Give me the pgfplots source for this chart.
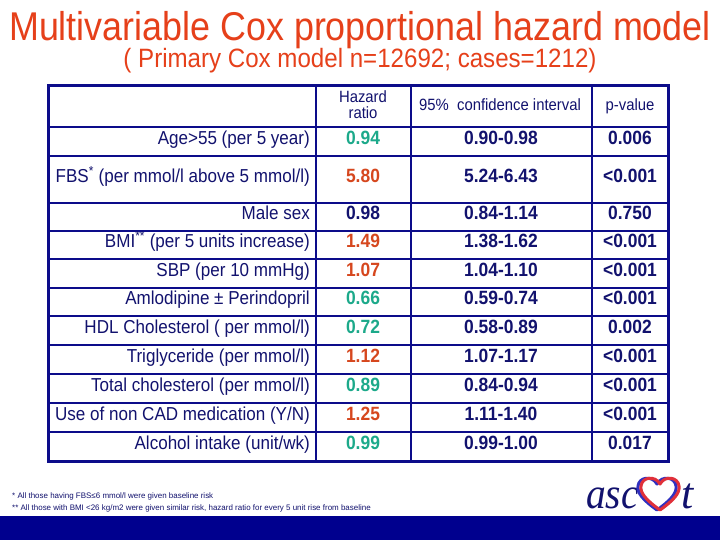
\documentclass[border=0pt]{standalone}
\usepackage{graphicx}
\usepackage{pgfplots}
\pgfplotsset{compat=1.18}
\usepackage{pgfplotstable}
\usepackage{fontspec}
\setmainfont{Liberation Sans}
\newfontfamily\logofont{Liberation Serif}
\definecolor{txtnavy}{HTML}{12126E}
\definecolor{gridnavy}{HTML}{0C0C8A}
\definecolor{hrgreen}{HTML}{1CA98A}
\definecolor{hrred}{HTML}{D6471E}
\definecolor{titlered}{HTML}{E6401A}
\definecolor{barnavy}{HTML}{00008E}
\definecolor{heartred}{HTML}{E0303A}
\definecolor{heartblue}{HTML}{3030C0}
\newcommand{\vs}[1]{\scalebox{1}[1.1]{#1}}

\pgfplotstableread[col sep=comma]{
y,label
142,Age>55 (per 5 year)
180,FBS\textsuperscript{*} (per mmol/l above 5 mmol/l)
217,Male sex
245,BMI\textsuperscript{**} (per 5 units increase)
274,SBP (per 10 mmHg)
302,Amlodipine ± Perindopril
331,HDL Cholesterol ( per mmol/l)
360,Triglyceride (per mmol/l)
389,Total cholesterol (per mmol/l)
418,Use of non CAD medication (Y/N)
447,Alcohol intake (unit/wk)
}\labeltab

\pgfplotstableread[col sep=comma]{
y,hr
142,0.94
302,0.66
331,0.72
389,0.89
447,0.99
}\hrgreentab

\pgfplotstableread[col sep=comma]{
y,hr
180,5.80
245,1.49
274,1.07
360,1.12
418,1.25
}\hrredtab

\pgfplotstableread[col sep=comma]{
y,hr
217,0.98
}\hrnavytab

\pgfplotstableread[col sep=comma]{
y,ci,p
142,0.90-0.98,0.006
180,5.24-6.43,<0.001
217,0.84-1.14,0.750
245,1.38-1.62,<0.001
274,1.04-1.10,<0.001
302,0.59-0.74,<0.001
331,0.58-0.89,0.002
360,1.07-1.17,<0.001
389,0.84-0.94,<0.001
418,1.11-1.40,<0.001
447,0.99-1.00,0.017
}\citab

\begin{document}
\begin{tikzpicture}
\begin{axis}[
  at={(0,0)}, anchor=south west,
  width=720bp, height=540bp, scale only axis,
  xmin=0, xmax=720, ymin=0, ymax=540, y dir=reverse,
  hide axis, clip=false,
  valstyle/.style={draw=none, mark=none, point meta=explicit symbolic,
    nodes near coords={\vs{\pgfplotspointmeta}}, nodes near coords align={anchor=mid}},
]
% background / bounding box
\fill[white] (0,0) rectangle (720,540);
% bottom bar
\fill[barnavy] (0,516) rectangle (720,540);

% title
\node[anchor=base, text=titlered, font=\fontsize{36}{40}\selectfont, inner sep=0pt] at (360,41) {\scalebox{1}[1.12]{Multivariable Cox proportional hazard model}};
\node[anchor=base, text=titlered, font=\fontsize{24.2}{28}\selectfont, inner sep=0pt] at (360,68) {\scalebox{1}[1.1]{( Primary Cox model n=12692; cases=1212)}};

% grid
\pgfplotsinvokeforeach{127,156,203,231,259,288,316,345,374,403,432}{
  \draw[gridnavy, line width=2bp] (48,#1) -- (668,#1);
}
\pgfplotsinvokeforeach{316,411,592}{
  \draw[gridnavy, line width=2bp] (#1,86) -- (#1,461);
}
\draw[gridnavy, line width=3bp] (48,86) rectangle (668,461);

% header
\node[text=txtnavy, font=\fontsize{14.9}{16}\selectfont, anchor=mid, inner sep=0pt] at (363,100) {\vs{Hazard}};
\node[text=txtnavy, font=\fontsize{14.9}{16}\selectfont, anchor=mid, inner sep=0pt] at (363,116) {\vs{ratio}};
\node[text=txtnavy, font=\fontsize{14.9}{16}\selectfont, anchor=mid, inner sep=0pt] at (500,108) {\vs{95\%\ \ confidence interval}};
\node[text=txtnavy, font=\fontsize{14.9}{16}\selectfont, anchor=mid, inner sep=0pt] at (630,108) {\vs{p-value}};

% row labels
\addplot[draw=none, mark=none, point meta=explicit symbolic,
  nodes near coords={\vs{\pgfplotspointmeta}}, nodes near coords align={anchor=mid east},
  every node near coord/.append style={anchor=mid east, inner sep=0pt, text=txtnavy, font=\fontsize{17.1}{19}\selectfont}]
  table[x expr=310, y=y, meta=label] {\labeltab};

% hazard ratios
\addplot[valstyle, every node near coord/.append style={anchor=mid, inner sep=0pt, text=hrgreen, font=\fontsize{17.5}{20}\selectfont\bfseries}]
  table[x expr=363, y=y, meta=hr] {\hrgreentab};
\addplot[valstyle, every node near coord/.append style={anchor=mid, inner sep=0pt, text=hrred, font=\fontsize{17.5}{20}\selectfont\bfseries}]
  table[x expr=363, y=y, meta=hr] {\hrredtab};
\addplot[valstyle, every node near coord/.append style={anchor=mid, inner sep=0pt, text=txtnavy, font=\fontsize{17.5}{20}\selectfont\bfseries}]
  table[x expr=363, y=y, meta=hr] {\hrnavytab};

% CI and p
\addplot[valstyle, every node near coord/.append style={anchor=mid, inner sep=0pt, text=txtnavy, font=\fontsize{17.5}{20}\selectfont\bfseries}]
  table[x expr=501, y=y, meta=ci] {\citab};
\addplot[valstyle, every node near coord/.append style={anchor=mid, inner sep=0pt, text=txtnavy, font=\fontsize{17.5}{20}\selectfont\bfseries}]
  table[x expr=630, y=y, meta=p] {\citab};

% footnotes
\node[anchor=base west, text=txtnavy, font=\fontsize{8}{9}\selectfont, inner sep=0pt] at (12,498) {* All those having FBS≤6 mmol/l were given baseline risk};
\node[anchor=base west, text=txtnavy, font=\fontsize{8}{9}\selectfont, inner sep=0pt] at (12,510) {** All those with BMI <26 kg/m2 were given similar risk, hazard ratio for every 5 unit rise from baseline};

% logo
\node[anchor=base west, text=txtnavy, font=\logofont\itshape\fontsize{44}{48}\selectfont, inner sep=0pt] at (586,508) {\scalebox{0.9}[1]{asc}};
\draw[heartblue, line width=3bp, line join=round]
  (657,510) .. controls (643,500) and (637,493) .. (638,486)
  .. controls (639,477) and (652,475) .. (657,484)
  .. controls (662,475) and (675,477) .. (676,486)
  .. controls (677,493) and (671,500) .. (657,510) -- cycle;
\draw[heartred, line width=3bp, line join=round]
  (660,510) .. controls (646,500) and (640,493) .. (641,486)
  .. controls (642,477) and (655,475) .. (660,484)
  .. controls (665,475) and (678,477) .. (679,486)
  .. controls (680,493) and (674,500) .. (660,510) -- cycle;
\node[anchor=base west, text=txtnavy, font=\logofont\itshape\fontsize{44}{48}\selectfont, inner sep=0pt] at (681,508) {t};
\end{axis}
\end{tikzpicture}
\end{document}
